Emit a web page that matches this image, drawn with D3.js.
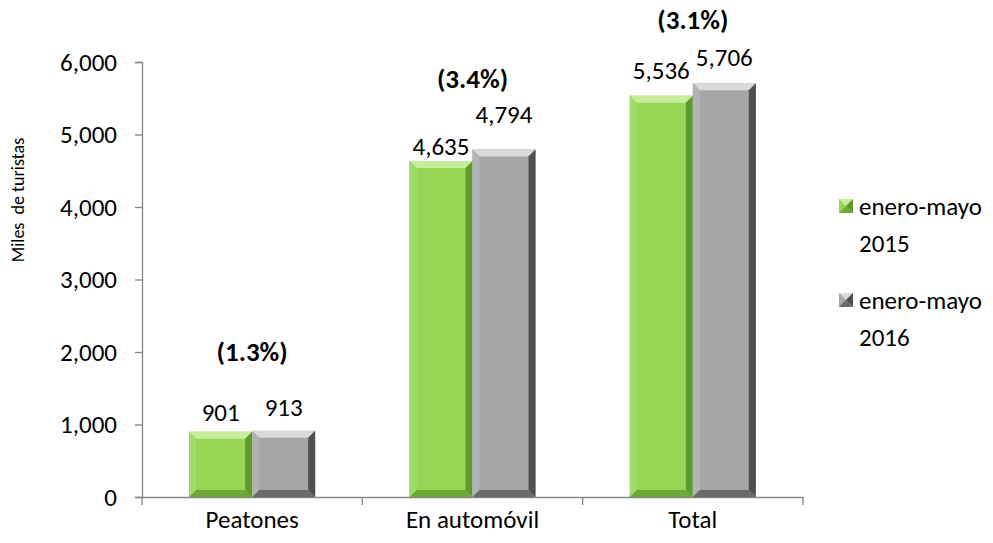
<!DOCTYPE html>
<html>
<head>
<meta charset="utf-8">
<script src="https://cdn.jsdelivr.net/npm/d3@7"></script>
<style>
  body { margin: 0; background: #fff; }
  svg text { font-family: Carlito, Calibri, Lato, "Open Sans", sans-serif; fill: #000; }
</style>
</head>
<body>
<svg></svg>
<script>
const width = 993;
const height = 543;

const categories = ["Peatones", "En automóvil", "Total"];
const series = ["enero-mayo 2015", "enero-mayo 2016"];
const values2015 = [901, 4635, 5536];
const values2016 = [913, 4794, 5706];
const changes = ["(1.3%)", "(3.4%)", "(3.1%)"];
const yTicks = [0, 1000, 2000, 3000, 4000, 5000, 6000];

const margin = { left: 142, right: 190, top: 62, bottom: 46 };

const svg = d3.select("svg")
    .attr("width", width)
    .attr("height", height);

const x = d3.scaleBand()
    .domain(categories)
    .range([margin.left, width - margin.right]);

const y = d3.scaleLinear()
    .domain([0, 6000])
    .range([height - margin.bottom, margin.top]);

// bevel colours: face, top, left, right, bottom
const palette = [
    { face: "#96d655", top: "#c6ee9c", left: "#a3db69", right: "#5f9a2c", bottom: "#6fa836" },
    { face: "#a6a6a6", top: "#dadada", left: "#b3b3b3", right: "#4f4f4f", bottom: "#6b6b6b" }
];

const barW = 63;
const bev = 7;
const fmt = d3.format(",");

const rows = categories.map((c, i) => ({ cat: c, vals: [values2015[i], values2016[i]], pct: changes[i] }));

// y axis
const yAxis = svg.append("g")
    .attr("transform", `translate(${margin.left},0)`)
    .call(d3.axisLeft(y).tickValues(yTicks).tickFormat(fmt).tickSize(7).tickPadding(18));
yAxis.select(".domain").attr("stroke", "#868686").attr("stroke-width", 1.3);
yAxis.selectAll(".tick line").attr("stroke", "#868686").attr("stroke-width", 1.3);
yAxis.selectAll(".tick text").style("font-size", "25px").attr("fill", "#000");

// x axis
const xAxis = svg.append("g")
    .attr("transform", `translate(0,${y(0)})`)
    .call(d3.axisBottom(x).tickSize(0).tickPadding(13));
xAxis.select(".domain").attr("stroke", "#868686").attr("stroke-width", 1.3);
xAxis.selectAll(".tick text").style("font-size", "25px").attr("fill", "#000");
const bounds = categories.map(c => x(c)).concat([x.range()[1]]);
xAxis.selectAll(".bound")
    .data(bounds)
    .enter().append("line")
    .attr("x1", d => d).attr("x2", d => d)
    .attr("y1", 0).attr("y2", 8)
    .attr("stroke", "#868686").attr("stroke-width", 1.3);

// y title
svg.append("text")
    .attr("transform", "translate(24,200) rotate(-90)")
    .attr("text-anchor", "middle")
    .style("font-size", "18px")
    .style("white-space", "pre")
    .text("Miles  de turistas");

function bevelBar(g, x0, y0, w, h, p) {
    const b = Math.min(bev, h / 2, w / 2);
    const x1 = x0 + w, y1 = y0 + h;
    g.append("rect").attr("x", x0).attr("y", y0).attr("width", w).attr("height", h).attr("fill", p.face);
    g.append("polygon").attr("points", [[x0, y0], [x1, y0], [x1 - b, y0 + b], [x0 + b, y0 + b]].join(" ")).attr("fill", p.top);
    g.append("polygon").attr("points", [[x0, y0], [x0 + b, y0 + b], [x0 + b, y1 - b], [x0, y1]].join(" ")).attr("fill", p.left);
    g.append("polygon").attr("points", [[x1, y0], [x1, y1], [x1 - b, y1 - b], [x1 - b, y0 + b]].join(" ")).attr("fill", p.right);
    g.append("polygon").attr("points", [[x0, y1], [x0 + b, y1 - b], [x1 - b, y1 - b], [x1, y1]].join(" ")).attr("fill", p.bottom);
}

// label lifts above bar tops, per series (labels were moved by hand in the original)
const labelLift = [[11, 6, 17], [15, 26, 17]];
const pctLift = [70, 61, 54];

const groups = svg.selectAll(".grp")
    .data(rows)
    .enter().append("g")
    .attr("class", "grp");

groups.each(function(d, i) {
    const g = d3.select(this);
    const cx = x(d.cat) + x.bandwidth() / 2;
    d.vals.forEach((v, j) => {
        const bx = cx - barW + j * barW;
        bevelBar(g, bx, y(v), barW, y(0) - y(v), palette[j]);
        g.append("text")
            .attr("x", bx + barW / 2)
            .attr("y", y(v) - labelLift[j][i])
            .attr("text-anchor", "middle")
            .style("font-size", "25px")
            .text(fmt(v));
    });
    g.append("text")
        .attr("x", cx)
        .attr("y", y(d3.max(d.vals)) - pctLift[i])
        .attr("text-anchor", "middle")
        .style("font-size", "27px")
        .style("font-weight", "bold")
        .text(d.pct);
});

// legend
const legend = svg.selectAll(".leg")
    .data(series)
    .enter().append("g")
    .attr("class", "leg")
    .attr("transform", (d, i) => `translate(839,${199 + i * 94})`);

legend.each(function(d, i) {
    const g = d3.select(this);
    const p = palette[i];
    const s = 14;
    g.append("rect").attr("width", s).attr("height", s).attr("fill", p.face);
    g.append("polygon").attr("points", [[0, 0], [s, 0], [s / 2, s / 2]].join(" ")).attr("fill", p.top);
    g.append("polygon").attr("points", [[s, 0], [s, s], [s / 2, s / 2]].join(" ")).attr("fill", p.right);
    g.append("polygon").attr("points", [[0, s], [s, s], [s / 2, s / 2]].join(" ")).attr("fill", p.bottom);
    const parts = d.split(" ");
    const t = g.append("text").attr("y", 16).style("font-size", "25px");
    t.append("tspan").attr("x", 20).text(parts[0]);
    t.append("tspan").attr("x", 20).attr("dy", 37).text(parts[1]);
});
</script>
</body>
</html>
